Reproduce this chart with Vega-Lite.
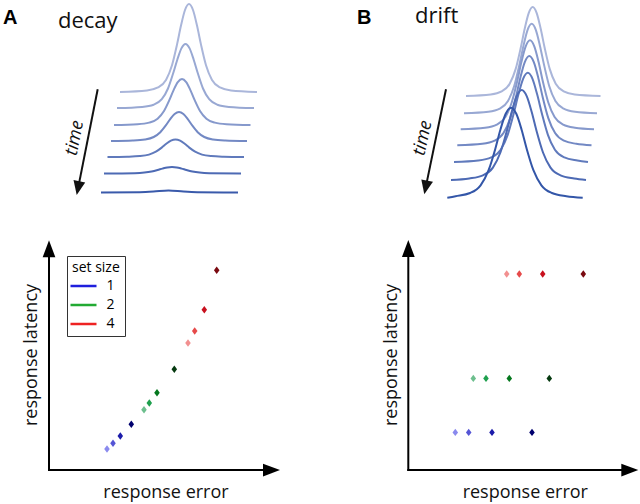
{
  "$schema": "https://vega.github.io/schema/vega-lite/v6.json",
  "background": "white",
  "padding": 0,
  "columns": 2,
  "spacing": 0,
  "align": "each",
  "bounds": "flush",
  "resolve": {"scale": {"color": "independent", "x": "independent", "y": "independent"}},
  "config": {"view": {"stroke": null}, "font": "Open Sans"},
  "concat": [
    {
      "width": 320, "height": 205,
      "layer": [
        {"data": {"values": [
          {"t":1,"x":120,"y":114},{"t":1,"x":147,"y":115.5},{"t":1,"x":158,"y":118.6},{"t":1,"x":166,"y":126.1},{"t":1,"x":172,"y":140.8},{"t":1,"x":177,"y":161.4},{"t":1,"x":181,"y":180.4},{"t":1,"x":185,"y":196},{"t":1,"x":189,"y":202},{"t":1,"x":193,"y":196},{"t":1,"x":197,"y":180.4},{"t":1,"x":201,"y":161.4},{"t":1,"x":206,"y":140.8},{"t":1,"x":212,"y":126.1},{"t":1,"x":220,"y":118.6},{"t":1,"x":231,"y":115.5},{"t":1,"x":257,"y":114},
          {"t":2,"x":117,"y":98},{"t":2,"x":142.2,"y":99.1},{"t":2,"x":153.6,"y":101.3},{"t":2,"x":161.8,"y":106.8},{"t":2,"x":168,"y":117.5},{"t":2,"x":173.1,"y":132.5},{"t":2,"x":177.3,"y":146.3},{"t":2,"x":181.4,"y":157.6},{"t":2,"x":185.5,"y":162},{"t":2,"x":189.6,"y":157.6},{"t":2,"x":193.7,"y":146.3},{"t":2,"x":197.9,"y":132.5},{"t":2,"x":203,"y":117.5},{"t":2,"x":209.2,"y":106.8},{"t":2,"x":217.4,"y":101.3},{"t":2,"x":228.8,"y":99.1},{"t":2,"x":254,"y":98},
          {"t":3,"x":114,"y":81},{"t":3,"x":137.5,"y":81.8},{"t":3,"x":149.1,"y":83.4},{"t":3,"x":157.6,"y":87.3},{"t":3,"x":164,"y":95},{"t":3,"x":169.3,"y":105.8},{"t":3,"x":173.5,"y":115.7},{"t":3,"x":177.8,"y":123.9},{"t":3,"x":182,"y":127},{"t":3,"x":186.2,"y":123.9},{"t":3,"x":190.5,"y":115.7},{"t":3,"x":194.7,"y":105.8},{"t":3,"x":200,"y":95},{"t":3,"x":206.4,"y":87.3},{"t":3,"x":214.9,"y":83.4},{"t":3,"x":226.5,"y":81.8},{"t":3,"x":250.5,"y":81},
          {"t":4,"x":111,"y":65},{"t":4,"x":132.8,"y":65.5},{"t":4,"x":144.9,"y":66.5},{"t":4,"x":153.7,"y":69},{"t":4,"x":160.3,"y":73.8},{"t":4,"x":165.8,"y":80.6},{"t":4,"x":170.2,"y":86.9},{"t":4,"x":174.6,"y":92},{"t":4,"x":179,"y":94},{"t":4,"x":183.4,"y":92},{"t":4,"x":187.8,"y":86.9},{"t":4,"x":192.2,"y":80.6},{"t":4,"x":197.7,"y":73.8},{"t":4,"x":204.3,"y":69},{"t":4,"x":213.1,"y":66.5},{"t":4,"x":225.2,"y":65.5},{"t":4,"x":247,"y":65},
          {"t":5,"x":107.5,"y":49},{"t":5,"x":127.2,"y":49.3},{"t":5,"x":139.8,"y":49.9},{"t":5,"x":149,"y":51.4},{"t":5,"x":155.9,"y":54.3},{"t":5,"x":161.7,"y":58.4},{"t":5,"x":166.3,"y":62.2},{"t":5,"x":170.9,"y":65.3},{"t":5,"x":175.5,"y":66.5},{"t":5,"x":180.1,"y":65.3},{"t":5,"x":184.7,"y":62.2},{"t":5,"x":189.3,"y":58.4},{"t":5,"x":195.1,"y":54.3},{"t":5,"x":202,"y":51.4},{"t":5,"x":211.2,"y":49.9},{"t":5,"x":223.8,"y":49.3},{"t":5,"x":244,"y":49},
          {"t":6,"x":104,"y":32.5},{"t":6,"x":134.8,"y":32.8},{"t":6,"x":144.4,"y":33.4},{"t":6,"x":151.6,"y":34.5},{"t":6,"x":157.6,"y":36},{"t":6,"x":162.4,"y":37.4},{"t":6,"x":167.2,"y":38.6},{"t":6,"x":172,"y":39},{"t":6,"x":176.8,"y":38.6},{"t":6,"x":181.6,"y":37.4},{"t":6,"x":186.4,"y":36},{"t":6,"x":192.4,"y":34.5},{"t":6,"x":199.6,"y":33.4},{"t":6,"x":209.2,"y":32.8},{"t":6,"x":241,"y":32.5},
          {"t":7,"x":101,"y":13.5},{"t":7,"x":139.7,"y":13.8},{"t":7,"x":153.5,"y":14.4},{"t":7,"x":168.5,"y":15.5},{"t":7,"x":183.5,"y":14.4},{"t":7,"x":197.3,"y":13.8},{"t":7,"x":238,"y":13.5}
        ]},
         "mark": {"type": "line", "interpolate": "monotone", "strokeWidth": 2},
         "encoding": {
           "x": {"field": "x", "type": "quantitative", "scale": {"domain": [0, 320], "nice": false, "zero": false}, "axis": null},
           "y": {"field": "y", "type": "quantitative", "scale": {"domain": [0, 205], "nice": false, "zero": false}, "axis": null},
           "color": {"field": "t", "type": "nominal", "scale": {"domain": [1,2,3,4,5,6,7], "range": ["#aab6da","#98a8d3","#8699cc","#7389c4","#607abc","#4d6ab4","#3a5aab"]}, "legend": null}}},
        {"data": {"values": [{}]}, "mark": {"type": "rule", "stroke": "#111111", "strokeWidth": 2},
         "encoding": {"x": {"datum": 97.7, "scale": {"domain": [0, 320], "nice": false, "zero": false}, "axis": null}, "y": {"datum": 116.7, "scale": {"domain": [0, 205], "nice": false, "zero": false}, "axis": null}, "x2": {"datum": 77.9}, "y2": {"datum": 16.9}}},
        {"data": {"values": [{}]}, "mark": {"type": "point", "shape": "M0,0L-0.85,-2L0.85,-2Z", "size": 196, "filled": true, "color": "#111111", "opacity": 1, "angle": 11, "strokeWidth": 0},
         "encoding": {"x": {"datum": 76.7, "scale": {"domain": [0, 320], "nice": false, "zero": false}, "axis": null}, "y": {"datum": 11, "scale": {"domain": [0, 205], "nice": false, "zero": false}, "axis": null}}},
        {"data": {"values": [{}]}, "mark": {"type": "text", "text": "time", "font": "Open Sans", "fontStyle": "italic", "fontSize": 18, "angle": -79, "align": "center", "baseline": "middle", "color": "#111111"},
         "encoding": {"x": {"datum": 75, "scale": {"domain": [0, 320], "nice": false, "zero": false}, "axis": null}, "y": {"datum": 68, "scale": {"domain": [0, 205], "nice": false, "zero": false}, "axis": null}}},
        {"data": {"values": [{}]}, "mark": {"type": "text", "text": "A", "font": "Liberation Sans", "fontWeight": "bold", "fontSize": 20, "align": "left", "baseline": "alphabetic", "color": "#000000"},
         "encoding": {"x": {"datum": 3, "scale": {"domain": [0, 320], "nice": false, "zero": false}, "axis": null}, "y": {"datum": 182.3, "scale": {"domain": [0, 205], "nice": false, "zero": false}, "axis": null}}},
        {"data": {"values": [{}]}, "mark": {"type": "text", "text": "decay", "font": "Open Sans", "fontSize": 22, "align": "left", "baseline": "alphabetic", "color": "#111111"},
         "encoding": {"x": {"datum": 58, "scale": {"domain": [0, 320], "nice": false, "zero": false}, "axis": null}, "y": {"datum": 178.3, "scale": {"domain": [0, 205], "nice": false, "zero": false}, "axis": null}}}
      ]
    },
    {
      "width": 320, "height": 205,
      "layer": [
        {"data": {"values": [
          {"t":1,"x":146,"y":110},{"t":1,"x":170.7,"y":111.5},{"t":1,"x":181.7,"y":114.6},{"t":1,"x":189.7,"y":122.3},{"t":1,"x":195.7,"y":137.1},{"t":1,"x":200.7,"y":158},{"t":1,"x":204.7,"y":177.2},{"t":1,"x":208.7,"y":192.9},{"t":1,"x":212.7,"y":199},{"t":1,"x":216.7,"y":192.9},{"t":1,"x":220.7,"y":177.2},{"t":1,"x":224.7,"y":158},{"t":1,"x":229.7,"y":137.1},{"t":1,"x":235.7,"y":122.3},{"t":1,"x":243.7,"y":114.6},{"t":1,"x":254.7,"y":111.5},{"t":1,"x":280.5,"y":110},
          {"t":2,"x":144,"y":92.7},{"t":2,"x":168.4,"y":94.2},{"t":2,"x":179.8,"y":97.4},{"t":2,"x":188,"y":105.1},{"t":2,"x":194.2,"y":120},{"t":2,"x":199.3,"y":140.9},{"t":2,"x":203.5,"y":160.3},{"t":2,"x":207.6,"y":176.1},{"t":2,"x":211.7,"y":182.2},{"t":2,"x":215.8,"y":176.1},{"t":2,"x":219.9,"y":160.3},{"t":2,"x":224.1,"y":140.9},{"t":2,"x":229.2,"y":120},{"t":2,"x":235.4,"y":105.1},{"t":2,"x":243.6,"y":97.4},{"t":2,"x":255,"y":94.2},{"t":2,"x":277,"y":92.7},
          {"t":3,"x":140.7,"y":76.7},{"t":3,"x":165.1,"y":78.2},{"t":3,"x":176.8,"y":81.3},{"t":3,"x":185.4,"y":89},{"t":3,"x":191.8,"y":103.8},{"t":3,"x":197.2,"y":124.7},{"t":3,"x":201.4,"y":143.9},{"t":3,"x":205.7,"y":159.6},{"t":3,"x":210,"y":165.7},{"t":3,"x":214.3,"y":159.6},{"t":3,"x":218.6,"y":143.9},{"t":3,"x":222.8,"y":124.7},{"t":3,"x":228.2,"y":103.8},{"t":3,"x":234.6,"y":89},{"t":3,"x":243.2,"y":81.3},{"t":3,"x":254.9,"y":78.2},{"t":3,"x":274,"y":76.7},
          {"t":4,"x":137.3,"y":60.7},{"t":4,"x":162.3,"y":62.2},{"t":4,"x":174.6,"y":65.3},{"t":4,"x":183.5,"y":73},{"t":4,"x":190.3,"y":87.9},{"t":4,"x":195.9,"y":108.8},{"t":4,"x":200.3,"y":128.1},{"t":4,"x":204.8,"y":143.9},{"t":4,"x":209.3,"y":150},{"t":4,"x":213.8,"y":143.9},{"t":4,"x":218.3,"y":128.1},{"t":4,"x":222.7,"y":108.8},{"t":4,"x":228.3,"y":87.9},{"t":4,"x":235.1,"y":73},{"t":4,"x":244,"y":65.3},{"t":4,"x":256.3,"y":62.2},{"t":4,"x":271.5,"y":60.7},
          {"t":5,"x":134,"y":44},{"t":5,"x":158.2,"y":45.5},{"t":5,"x":171.2,"y":48.6},{"t":5,"x":180.7,"y":56.3},{"t":5,"x":187.7,"y":71.2},{"t":5,"x":193.6,"y":92.1},{"t":5,"x":198.4,"y":111.4},{"t":5,"x":203.1,"y":127.2},{"t":5,"x":207.8,"y":133.3},{"t":5,"x":212.5,"y":127.2},{"t":5,"x":217.2,"y":111.4},{"t":5,"x":222,"y":92.1},{"t":5,"x":227.9,"y":71.2},{"t":5,"x":234.9,"y":56.3},{"t":5,"x":244.4,"y":48.6},{"t":5,"x":257.4,"y":45.5},{"t":5,"x":268,"y":44},
          {"t":6,"x":131,"y":26},{"t":6,"x":149.2,"y":27.5},{"t":6,"x":162.9,"y":30.7},{"t":6,"x":172.9,"y":38.4},{"t":6,"x":180.4,"y":53.5},{"t":6,"x":186.7,"y":74.5},{"t":6,"x":191.7,"y":94},{"t":6,"x":196.7,"y":109.9},{"t":6,"x":201.7,"y":116},{"t":6,"x":206.7,"y":109.9},{"t":6,"x":211.7,"y":94},{"t":6,"x":216.7,"y":74.5},{"t":6,"x":223,"y":53.5},{"t":6,"x":230.5,"y":38.4},{"t":6,"x":240.5,"y":30.7},{"t":6,"x":254.2,"y":27.5},{"t":6,"x":266,"y":26},
          {"t":7,"x":127.3,"y":8.3},{"t":7,"x":135.6,"y":9.8},{"t":7,"x":150.1,"y":13},{"t":7,"x":160.6,"y":20.7},{"t":7,"x":168.6,"y":35.8},{"t":7,"x":175.2,"y":56.8},{"t":7,"x":180.4,"y":76.3},{"t":7,"x":185.7,"y":92.2},{"t":7,"x":191,"y":98.3},{"t":7,"x":196.3,"y":92.2},{"t":7,"x":201.6,"y":76.3},{"t":7,"x":206.8,"y":56.8},{"t":7,"x":213.4,"y":35.8},{"t":7,"x":221.4,"y":20.7},{"t":7,"x":231.9,"y":13},{"t":7,"x":246.4,"y":9.8},{"t":7,"x":262.7,"y":8.3}
        ]},
         "mark": {"type": "line", "interpolate": "monotone", "strokeWidth": 2},
         "encoding": {
           "x": {"field": "x", "type": "quantitative", "scale": {"domain": [0, 320], "nice": false, "zero": false}, "axis": null},
           "y": {"field": "y", "type": "quantitative", "scale": {"domain": [0, 205], "nice": false, "zero": false}, "axis": null},
           "color": {"field": "t", "type": "nominal", "scale": {"domain": [1,2,3,4,5,6,7], "range": ["#aab6da","#98a8d3","#8699cc","#7389c4","#607abc","#4d6ab4","#3356a8"]}, "legend": null}}},
        {"data": {"values": [{}]}, "mark": {"type": "rule", "stroke": "#111111", "strokeWidth": 2},
         "encoding": {"x": {"datum": 126, "scale": {"domain": [0, 320], "nice": false, "zero": false}, "axis": null}, "y": {"datum": 116.7, "scale": {"domain": [0, 205], "nice": false, "zero": false}, "axis": null}, "x2": {"datum": 105.5}, "y2": {"datum": 17.6}}},
        {"data": {"values": [{}]}, "mark": {"type": "point", "shape": "M0,0L-0.85,-2L0.85,-2Z", "size": 196, "filled": true, "color": "#111111", "opacity": 1, "angle": 11.7, "strokeWidth": 0},
         "encoding": {"x": {"datum": 104.3, "scale": {"domain": [0, 320], "nice": false, "zero": false}, "axis": null}, "y": {"datum": 11.7, "scale": {"domain": [0, 205], "nice": false, "zero": false}, "axis": null}}},
        {"data": {"values": [{}]}, "mark": {"type": "text", "text": "time", "font": "Open Sans", "fontStyle": "italic", "fontSize": 18, "angle": -78, "align": "center", "baseline": "middle", "color": "#111111"},
         "encoding": {"x": {"datum": 103, "scale": {"domain": [0, 320], "nice": false, "zero": false}, "axis": null}, "y": {"datum": 68, "scale": {"domain": [0, 205], "nice": false, "zero": false}, "axis": null}}},
        {"data": {"values": [{}]}, "mark": {"type": "text", "text": "B", "font": "Liberation Sans", "fontWeight": "bold", "fontSize": 20, "align": "left", "baseline": "alphabetic", "color": "#000000"},
         "encoding": {"x": {"datum": 37, "scale": {"domain": [0, 320], "nice": false, "zero": false}, "axis": null}, "y": {"datum": 182.3, "scale": {"domain": [0, 205], "nice": false, "zero": false}, "axis": null}}},
        {"data": {"values": [{}]}, "mark": {"type": "text", "text": "drift", "font": "Open Sans", "fontSize": 22, "align": "left", "baseline": "alphabetic", "color": "#111111"},
         "encoding": {"x": {"datum": 95, "scale": {"domain": [0, 320], "nice": false, "zero": false}, "axis": null}, "y": {"datum": 183.3, "scale": {"domain": [0, 205], "nice": false, "zero": false}, "axis": null}}}
      ]
    },
    {
      "width": 320, "height": 299,
      "layer": [
        {"data": {"name": "ptsA", "values": [
          {"cond":"1a","setsize":"1","x":58,"y":21},
          {"cond":"1b","setsize":"1","x":64,"y":26.7},
          {"cond":"1c","setsize":"1","x":71.3,"y":34},
          {"cond":"1d","setsize":"1","x":82.3,"y":45.7},
          {"cond":"2a","setsize":"2","x":95,"y":60.3},
          {"cond":"2b","setsize":"2","x":100.3,"y":67},
          {"cond":"2c","setsize":"2","x":108,"y":77.3},
          {"cond":"2d","setsize":"2","x":125.3,"y":100.7},
          {"cond":"4a","setsize":"4","x":139,"y":127},
          {"cond":"4b","setsize":"4","x":145.7,"y":139},
          {"cond":"4c","setsize":"4","x":155.3,"y":160.3},
          {"cond":"4d","setsize":"4","x":167.7,"y":199.7}
        ]},
         "layer": [
          {"mark": {"type": "point", "filled": false, "size": 4, "strokeWidth": 1, "opacity": 1},
           "encoding": {
             "x": {"field": "x", "type": "quantitative", "scale": {"domain": [-49, 271], "nice": false, "zero": false}, "axis": null},
             "y": {"field": "y", "type": "quantitative", "scale": {"domain": [-35, 264], "nice": false, "zero": false}, "axis": null},
             "color": {"field": "setsize", "type": "nominal", "scale": {"domain": ["1","2","4"], "range": ["#1f1fdd","#22aa33","#ee2222"]},
             "legend": {"title": "set size", "orient": "none", "legendX": 67, "legendY": 50, "direction": "vertical", "symbolType": "M-2,0L2,0", "symbolSize": 169, "symbolOffset": 3.5, "symbolStrokeWidth": 2.5, "padding": 5, "strokeColor": "#333333", "fillColor": "white", "titleFontSize": 14, "titleFontWeight": "normal", "titleFont": "Open Sans", "titleColor": "#000000", "labelFontSize": 14, "labelFont": "Open Sans", "labelColor": "#000000", "labelOffset": 15, "rowPadding": 4, "titlePadding": 3}}}},
          {"mark": {"type": "point", "shape": "M0,-1L0.75,0L0,1L-0.75,0Z", "size": 55, "filled": true, "opacity": 1, "strokeWidth": 0},
           "encoding": {
             "x": {"field": "x", "type": "quantitative", "scale": {"domain": [-49, 271], "nice": false, "zero": false}, "axis": null},
             "y": {"field": "y", "type": "quantitative", "scale": {"domain": [-35, 264], "nice": false, "zero": false}, "axis": null},
             "color": {"field": "cond", "type": "nominal", "scale": {"domain": ["1a","1b","1c","1d","2a","2b","2c","2d","4a","4b","4c","4d"], "range": ["#8a8aee","#5555d5","#1c1caa","#00006e","#6dbf8e","#1fa04e","#05781e","#063a10","#f29090","#e64a4a","#c8101e","#7a0a10"]}, "legend": null}}}
         ],
         "resolve": {"scale": {"color": "independent"}, "legend": {"color": "independent"}}
        },
        {"data": {"values": [{}]}, "mark": {"type": "rule", "stroke": "#000000", "strokeWidth": 2, "strokeCap": "square"},
         "encoding": {"x": {"datum": 0, "scale": {"domain": [-49, 271], "nice": false, "zero": false}, "axis": null}, "y": {"datum": 0, "scale": {"domain": [-35, 264], "nice": false, "zero": false}, "axis": null}, "y2": {"datum": 215}}},
        {"data": {"values": [{}]}, "mark": {"type": "rule", "stroke": "#000000", "strokeWidth": 2, "strokeCap": "square"},
         "encoding": {"x": {"datum": 0, "scale": {"domain": [-49, 271], "nice": false, "zero": false}, "axis": null}, "y": {"datum": 0, "scale": {"domain": [-35, 264], "nice": false, "zero": false}, "axis": null}, "x2": {"datum": 217}}},
        {"data": {"values": [{}]}, "mark": {"type": "point", "shape": "M0,0L-0.75,2L0.75,2Z", "size": 289, "filled": true, "color": "#000000", "opacity": 1, "strokeWidth": 0},
         "encoding": {"x": {"datum": 0, "scale": {"domain": [-49, 271], "nice": false, "zero": false}, "axis": null}, "y": {"datum": 229.7, "scale": {"domain": [-35, 264], "nice": false, "zero": false}, "axis": null}}},
        {"data": {"values": [{}]}, "mark": {"type": "point", "shape": "M0,0L-2,-0.75L-2,0.75Z", "size": 289, "filled": true, "color": "#000000", "opacity": 1, "strokeWidth": 0},
         "encoding": {"x": {"datum": 231, "scale": {"domain": [-49, 271], "nice": false, "zero": false}, "axis": null}, "y": {"datum": 0, "scale": {"domain": [-35, 264], "nice": false, "zero": false}, "axis": null}}},
        {"data": {"values": [{}]}, "mark": {"type": "text", "text": "response error", "font": "Open Sans", "fontSize": 18, "align": "center", "baseline": "alphabetic", "color": "#111111"},
         "encoding": {"x": {"datum": 117, "scale": {"domain": [-49, 271], "nice": false, "zero": false}, "axis": null}, "y": {"datum": -28, "scale": {"domain": [-35, 264], "nice": false, "zero": false}, "axis": null}}},
        {"data": {"values": [{}]}, "mark": {"type": "text", "text": "response latency", "font": "Open Sans", "fontSize": 18, "angle": -90, "align": "center", "baseline": "alphabetic", "color": "#111111"},
         "encoding": {"x": {"datum": -12.3, "scale": {"domain": [-49, 271], "nice": false, "zero": false}, "axis": null}, "y": {"datum": 115, "scale": {"domain": [-35, 264], "nice": false, "zero": false}, "axis": null}}}
      ],
      "resolve": {"scale": {"color": "independent"}, "legend": {"color": "independent"}}
    },
    {
      "width": 320, "height": 299,
      "layer": [
        {"data": {"values": [
          {"cond":"1a","setsize":"1","x":47,"y":37.6},
          {"cond":"1b","setsize":"1","x":60.4,"y":37.6},
          {"cond":"1c","setsize":"1","x":83.7,"y":37.6},
          {"cond":"1d","setsize":"1","x":123.7,"y":37.6},
          {"cond":"2a","setsize":"2","x":65,"y":91.6},
          {"cond":"2b","setsize":"2","x":77.7,"y":91.6},
          {"cond":"2c","setsize":"2","x":101,"y":91.6},
          {"cond":"2d","setsize":"2","x":141,"y":91.6},
          {"cond":"4a","setsize":"4","x":98.4,"y":196},
          {"cond":"4b","setsize":"4","x":111,"y":196},
          {"cond":"4c","setsize":"4","x":134.4,"y":196},
          {"cond":"4d","setsize":"4","x":175,"y":196}
        ]},
         "mark": {"type": "point", "shape": "M0,-1L0.75,0L0,1L-0.75,0Z", "size": 55, "filled": true, "opacity": 1, "strokeWidth": 0},
         "encoding": {
           "x": {"field": "x", "type": "quantitative", "scale": {"domain": [-88.3, 231.7], "nice": false, "zero": false}, "axis": null},
           "y": {"field": "y", "type": "quantitative", "scale": {"domain": [-35, 264], "nice": false, "zero": false}, "axis": null},
           "color": {"field": "cond", "type": "nominal", "scale": {"domain": ["1a","1b","1c","1d","2a","2b","2c","2d","4a","4b","4c","4d"], "range": ["#8a8aee","#5555d5","#1c1caa","#00006e","#6dbf8e","#1fa04e","#05781e","#063a10","#f29090","#e64a4a","#c8101e","#7a0a10"]}, "legend": null}}},
        {"data": {"values": [{}]}, "mark": {"type": "rule", "stroke": "#000000", "strokeWidth": 2, "strokeCap": "square"},
         "encoding": {"x": {"datum": 0, "scale": {"domain": [-88.3, 231.7], "nice": false, "zero": false}, "axis": null}, "y": {"datum": 0, "scale": {"domain": [-35, 264], "nice": false, "zero": false}, "axis": null}, "y2": {"datum": 215}}},
        {"data": {"values": [{}]}, "mark": {"type": "rule", "stroke": "#000000", "strokeWidth": 2, "strokeCap": "square"},
         "encoding": {"x": {"datum": 0, "scale": {"domain": [-88.3, 231.7], "nice": false, "zero": false}, "axis": null}, "y": {"datum": 0, "scale": {"domain": [-35, 264], "nice": false, "zero": false}, "axis": null}, "x2": {"datum": 216}}},
        {"data": {"values": [{}]}, "mark": {"type": "point", "shape": "M0,0L-0.75,2L0.75,2Z", "size": 289, "filled": true, "color": "#000000", "opacity": 1, "strokeWidth": 0},
         "encoding": {"x": {"datum": 0, "scale": {"domain": [-88.3, 231.7], "nice": false, "zero": false}, "axis": null}, "y": {"datum": 230, "scale": {"domain": [-35, 264], "nice": false, "zero": false}, "axis": null}}},
        {"data": {"values": [{}]}, "mark": {"type": "point", "shape": "M0,0L-2,-0.75L-2,0.75Z", "size": 289, "filled": true, "color": "#000000", "opacity": 1, "strokeWidth": 0},
         "encoding": {"x": {"datum": 230, "scale": {"domain": [-88.3, 231.7], "nice": false, "zero": false}, "axis": null}, "y": {"datum": 0, "scale": {"domain": [-35, 264], "nice": false, "zero": false}, "axis": null}}},
        {"data": {"values": [{}]}, "mark": {"type": "text", "text": "response error", "font": "Open Sans", "fontSize": 18, "align": "center", "baseline": "alphabetic", "color": "#111111"},
         "encoding": {"x": {"datum": 117, "scale": {"domain": [-88.3, 231.7], "nice": false, "zero": false}, "axis": null}, "y": {"datum": -28, "scale": {"domain": [-35, 264], "nice": false, "zero": false}, "axis": null}}},
        {"data": {"values": [{}]}, "mark": {"type": "text", "text": "response latency", "font": "Open Sans", "fontSize": 18, "angle": -90, "align": "center", "baseline": "alphabetic", "color": "#111111"},
         "encoding": {"x": {"datum": -11.6, "scale": {"domain": [-88.3, 231.7], "nice": false, "zero": false}, "axis": null}, "y": {"datum": 115, "scale": {"domain": [-35, 264], "nice": false, "zero": false}, "axis": null}}}
      ]
    }
  ]
}
